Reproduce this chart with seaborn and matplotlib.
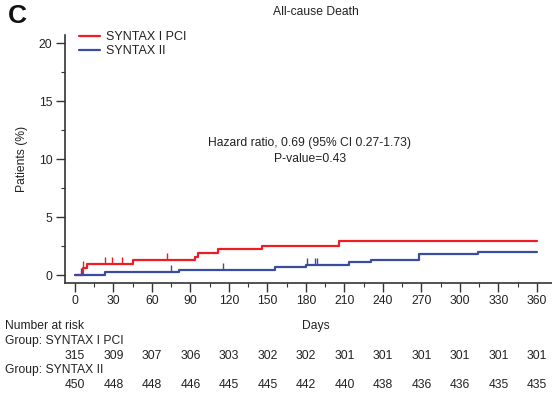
import matplotlib
matplotlib.use("Agg")
import matplotlib.pyplot as plt
import seaborn as sns
import pandas as pd
import numpy as np

# ---- data ----
groups = ["SYNTAX I PCI", "SYNTAX II"]
pci_days = [0, 6, 9, 45, 93.5, 96, 111.7, 146, 206, 360]
pci_pct = [0.0, 0.63, 0.95, 1.27, 1.59, 1.91, 2.22, 2.54, 2.90, 2.90]
pci_cens_days = [6.5, 23, 29, 37, 72]
s2_days = [0, 23.4, 81, 156, 180, 213.8, 231, 268, 314, 360]
s2_pct = [0.0, 0.22, 0.44, 0.66, 0.89, 1.11, 1.33, 1.78, 2.00, 2.00]
s2_cens_days = [5, 75, 115.6, 180.5, 187, 188.5]
risk_days = [0, 30, 60, 90, 120, 150, 180, 210, 240, 270, 300, 330, 360]
risk_pci = [315, 309, 307, 306, 303, 302, 302, 301, 301, 301, 301, 301, 301]
risk_s2 = [450, 448, 448, 446, 445, 445, 442, 440, 438, 436, 436, 435, 435]
colors = ["#ee1c25", "#3a4ca0"]

sns.set_theme(style="ticks")
plt.rcParams["font.family"] = ["Liberation Sans", "DejaVu Sans"]

fig = plt.figure(figsize=(5.52, 3.98), dpi=100)
W, H = 552, 398
ax = fig.add_axes([65 / W, 1 - 283 / H, (560 - 65) / W, (283 - 35) / H])

df = pd.concat([
    pd.DataFrame({"Days": pci_days, "Pct": pci_pct, "Group": groups[0]}),
    pd.DataFrame({"Days": s2_days, "Pct": s2_pct, "Group": groups[1]}),
])
sns.lineplot(data=df, x="Days", y="Pct", hue="Group", palette=colors,
             drawstyle="steps-post", linewidth=1.6, ax=ax, estimator=None,
             sort=True)

def val_at(days, pct, t):
    idx = np.searchsorted(days, t, side="right") - 1
    return pct[idx]

for cd, d, p, c in [(pci_cens_days, pci_days, pci_pct, colors[0]),
                    (s2_cens_days, s2_days, s2_pct, colors[1])]:
    ys = [val_at(d, p, t) for t in cd]
    ax.plot(cd, ys, linestyle="none", marker=2, markersize=5,
            markeredgewidth=1.0, color=c)

x0 = -7.8
ax.set_xlim(x0, x0 + (560 - 65) / 1.283)
ax.set_ylim(-0.69, 20.7)
ax.set_xticks(risk_days)
ax.set_xticks(np.arange(15, 360, 30), minor=True)
ax.set_yticks([0, 5, 10, 15, 20])
ax.set_yticks([2.5, 7.5, 12.5, 17.5], minor=True)
ax.tick_params(axis="both", which="major", length=6.5, width=1, labelsize=8.7,
               color="#333333", labelcolor="#222222", pad=2.5)
ax.tick_params(axis="both", which="minor", length=3.2, width=0.8, color="#333333")
for s in ["top", "right"]:
    ax.spines[s].set_visible(False)
for s in ["left", "bottom"]:
    ax.spines[s].set_linewidth(1.2)
    ax.spines[s].set_color("#333333")
ax.set_xlabel("")
ax.set_ylabel("Patients (%)", fontsize=8.7, color="#222222", labelpad=8)

leg = ax.legend(frameon=False, loc="upper left", bbox_to_anchor=(0.005, 1.06),
                fontsize=9, handlelength=1.7, handletextpad=0.5,
                labelspacing=0.15)
for t in leg.get_texts():
    t.set_color("#222222")

ax.text(183, 11.4, "Hazard ratio, 0.69 (95% CI 0.27-1.73)", ha="center",
        va="center", fontsize=8.7, color="#222222")
ax.text(183, 10.0, "P-value=0.43", ha="center", va="center", fontsize=8.7,
        color="#222222")

fig.text(316 / W, 1 - 12 / H, "All-cause Death", ha="center", va="center",
         fontsize=8.7, color="#222222")
fig.text(8 / W, 1 - 16 / H, "C", ha="left", va="center", fontsize=19,
         fontweight="bold", color="#111111")

# risk table
fs = 8.7
fig.text(316 / W, 1 - 326 / H, "Days", ha="center", va="center", fontsize=fs,
         color="#222222")
fig.text(5 / W, 1 - 326 / H, "Number at risk", ha="left", va="center",
         fontsize=fs, color="#222222")
fig.text(5 / W, 1 - 341 / H, "Group: " + groups[0], ha="left", va="center",
         fontsize=fs, color="#222222")
fig.text(5 / W, 1 - 370 / H, "Group: " + groups[1], ha="left", va="center",
         fontsize=fs, color="#222222")
trans = matplotlib.transforms.blended_transform_factory(ax.transData,
                                                        fig.transFigure)
for d, a, b in zip(risk_days, risk_pci, risk_s2):
    fig.text(d, 1 - 356 / H, str(a), ha="center", va="center", fontsize=fs,
             color="#222222", transform=trans)
    fig.text(d, 1 - 385 / H, str(b), ha="center", va="center", fontsize=fs,
             color="#222222", transform=trans)

fig.savefig("out.png", dpi=100)
